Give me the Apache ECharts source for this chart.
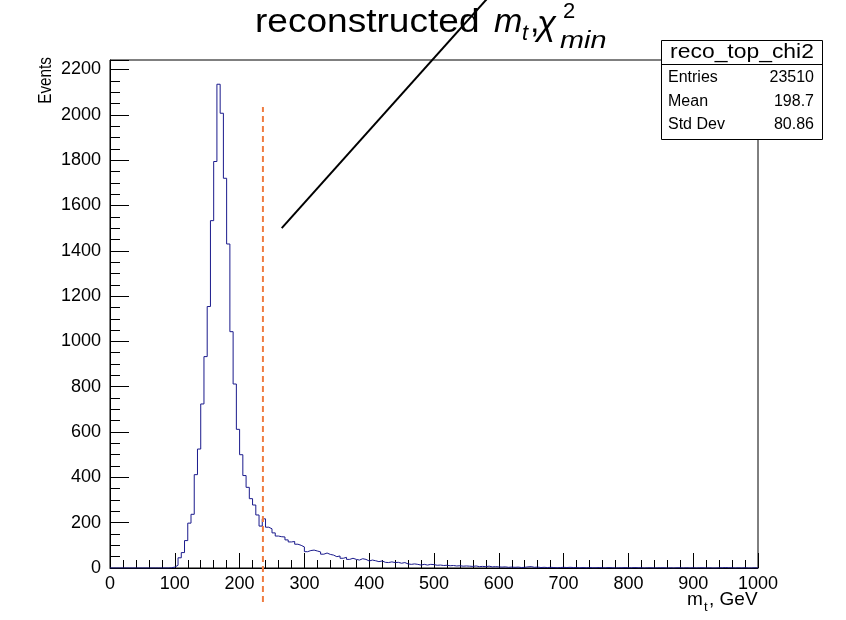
<!DOCTYPE html>
<html><head><meta charset="utf-8">
<script src="https://cdn.jsdelivr.net/npm/echarts@6/dist/echarts.min.js"></script>
<style>html,body{margin:0;padding:0;background:#fff}#c{width:846px;height:620px}</style>
</head><body><div id="c"></div>
<script>
// ---- data ----
const binWidth = 5;
const xMin = 0, xMax = 1000;
const yMax = 2242;
const counts = [
  0,0,0,0,0,0,0,0,0,0, 0,0,0,0,0,0,0,0,1,4,
  12,45,68,121,198,237,412,525,724,933,
  1154,1533,1794,2135,2007,1720,1430,1043,812,612,
  500,408,356,306,278,234,185,217,180,173,
  155,141,138,137,124,115,117,105,100,93,
  72,77,79,75,71,61,66,60,57,50,
  53,43,47,38,43,38,35,41,38,31,
  35,32,28,31,25,24,27,24,25,21,
  24,18,16,18,16,13,16,13,16,15,
  12,13,11,12,10,11,9,10,8,9,
  8,7,9,6,7,6,8,5,6,5,
  4,5,3,4,3,4,2,3,5,6,
  3,4,2,3,2,3,2,1,2,3,
  2,3,2,2,1,2,1,2,1,1,
  2,1,1,2,1,0,1,1,2,1,
  1,2,1,1,0,1,1,0,1,1,
  1,0,1,0,1,1,0,1,0,1,
  0,1,1,0,1,0,0,1,1,2,
  1,1,0,1,0,1,0,0,1,0
];
const cutLine = [[236, -150], [236, 2035]];
const slashLine = [[265, 1500], [600, 2570]];
const statsTitle = 'reco_top_chi2';
const statsLabels = ['Entries', 'Mean', 'Std Dev'];
const statsValues = ['23510', '198.7', '80.86'];
const yAxisTitle = 'Events';

// ---- build ----
const histData = counts.map((c, i) => [xMin + i * binWidth, c]);
histData.push([xMax, counts[counts.length - 1]]);

const font = '"Liberation Sans", Arial, Helvetica, sans-serif';
const chart = echarts.init(document.getElementById('c'), null, {renderer: 'canvas'});

function txt(text, x, y, fs, opts) {
  opts = opts || {};
  return {
    type: 'text', z: 100, x: x, y: y, rotation: opts.rotation || 0,
    scaleX: opts.sx || 1, scaleY: opts.sy || 1,
    style: {
      text: text, fill: '#000',
      font: (opts.italic ? 'italic ' : '') + fs + 'px ' + font,
      textAlign: opts.align || 'left', textVerticalAlign: 'middle'
    }
  };
}

const rowY = [78, 102, 125];
const graphics = [
  // title
  txt('reconstructed', 255, 23, 34, {sx: 1.09}),
  txt('m', 494, 23, 34, {italic: true}),
  txt('t', 522, 34, 22, {italic: true}),
  txt(',', 530, 23, 34),
  txt('\u03C7', 537, 25, 35, {italic: true}),
  txt('2', 563, 12, 22),
  txt('min', 560, 41, 24, {italic: true, sx: 1.2}),
  // stats box
  {type: 'rect', z: 99, shape: {x: 661.5, y: 40.5, width: 161, height: 99},
   style: {fill: '#fff', stroke: '#000', lineWidth: 1}},
  {type: 'line', z: 100, shape: {x1: 661.5, y1: 64.5, x2: 822.5, y2: 64.5},
   style: {stroke: '#000', lineWidth: 1}},
  txt(statsTitle, 742, 52, 21, {align: 'center', sx: 1.09}),
  // axis titles
  txt(yAxisTitle, 46, 57, 18, {align: 'right', rotation: Math.PI / 2, sx: 0.85}),
  txt('m', 687, 600, 19),
  txt('t', 704, 607, 13),
  txt(', GeV', 709, 600, 19)
];
statsLabels.forEach((l, i) => {
  graphics.push(txt(l, 668, rowY[i], 16));
  graphics.push(txt(statsValues[i], 814, rowY[i], 16, {align: 'right'}));
});

const option = {
  animation: false,
  backgroundColor: '#fff',
  grid: {left: 110, right: 88, top: 60, bottom: 52, show: true,
         borderColor: '#000', borderWidth: 1, backgroundColor: 'transparent'},
  xAxis: {
    type: 'value', min: xMin, max: xMax, interval: 100,
    axisLine: {show: true, lineStyle: {color: '#000', width: 1}},
    axisTick: {show: true, inside: true, length: 15, lineStyle: {color: '#000', width: 1}},
    minorTick: {show: true, splitNumber: 5, length: 8, lineStyle: {color: '#000', width: 1}},
    splitLine: {show: false}, minorSplitLine: {show: false},
    axisLabel: {color: '#000', fontSize: 18, fontFamily: font, margin: 7,
                showMinLabel: true, showMaxLabel: true, formatter: v => String(v)}
  },
  yAxis: {
    type: 'value', min: 0, max: yMax, interval: 200,
    axisLine: {show: true, lineStyle: {color: '#000', width: 1}},
    axisTick: {show: true, inside: true, length: 19, lineStyle: {color: '#000', width: 1}},
    minorTick: {show: true, splitNumber: 4, length: 10, lineStyle: {color: '#000', width: 1}},
    splitLine: {show: false}, minorSplitLine: {show: false},
    axisLabel: {color: '#000', fontSize: 18, fontFamily: font, margin: 9,
                formatter: v => (v % 200 === 0 ? String(v) : '')}
  },
  series: [
    {type: 'line', data: histData, step: 'end', symbol: 'none', z: 3,
     lineStyle: {color: '#1a1a8c', width: 1}},
    {type: 'line', data: cutLine, symbol: 'none', clip: false, z: 4,
     lineStyle: {color: '#ef7d42', width: 2, type: [6, 4]}},
    {type: 'line', data: slashLine, symbol: 'none', clip: false, z: 5,
     lineStyle: {color: '#000', width: 2}}
  ],
  graphic: graphics
};
chart.setOption(option);
</script></body></html>
